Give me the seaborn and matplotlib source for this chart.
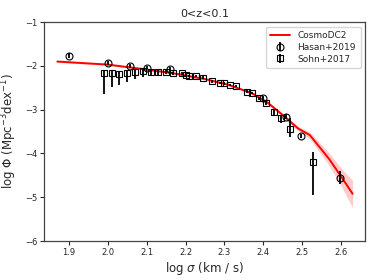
import matplotlib

matplotlib.use("Agg")

import matplotlib.pyplot as plt
import numpy as np
import pandas as pd
import seaborn as sns

# CosmoDC2 model curve and its shaded band
dc2_x = [1.87, 2.00, 2.08, 2.17, 2.25, 2.31, 2.37, 2.41, 2.45, 2.49, 2.52, 2.57, 2.60, 2.63]
dc2_y = [-1.90, -1.97, -2.06, -2.17, -2.30, -2.43, -2.62, -2.83, -3.12, -3.43, -3.58, -4.13, -4.52, -4.92]
dc2_lo = [-1.92, -1.99, -2.08, -2.19, -2.32, -2.45, -2.64, -2.86, -3.16, -3.49, -3.66, -4.28, -4.73, -5.24]
dc2_hi = [-1.88, -1.95, -2.04, -2.15, -2.28, -2.41, -2.60, -2.80, -3.08, -3.38, -3.51, -3.99, -4.33, -4.62]

# Hasan+2019
hasan_x = [1.90, 2.00, 2.058, 2.10, 2.16, 2.40, 2.458, 2.498, 2.597]
hasan_y = [-1.77, -1.93, -2.00, -2.04, -2.07, -2.73, -3.16, -3.60, -4.55]
hasan_err = [0.06, 0.04, 0.04, 0.04, 0.04, 0.05, 0.06, 0.04, 0.14]

# Sohn+2017
sohn_x = [1.99, 2.01, 2.03, 2.05, 2.07, 2.09, 2.11, 2.13, 2.15, 2.168, 2.19, 2.20, 2.21,
          2.226, 2.245, 2.267, 2.288, 2.298, 2.314, 2.329, 2.357, 2.370, 2.389, 2.408,
          2.427, 2.447, 2.468, 2.528]
sohn_y = [-2.17, -2.17, -2.19, -2.17, -2.13, -2.11, -2.13, -2.13, -2.13, -2.17, -2.17, -2.21, -2.23,
          -2.23, -2.27, -2.35, -2.39, -2.40, -2.44, -2.46, -2.59, -2.62, -2.74, -2.85,
          -3.06, -3.20, -3.43, -4.19]
sohn_err_lo = [0.48, 0.31, 0.25, 0.19, 0.17, 0.14, 0.09, 0.07, 0.05, 0.04, 0.04, 0.03, 0.03,
               0.03, 0.03, 0.03, 0.03, 0.03, 0.03, 0.03, 0.03, 0.03, 0.04, 0.04,
               0.05, 0.10, 0.19, 0.76]
sohn_err_hi = [0.05, 0.05, 0.05, 0.05, 0.05, 0.05, 0.04, 0.04, 0.04, 0.03, 0.03, 0.03, 0.03,
               0.03, 0.03, 0.03, 0.03, 0.03, 0.03, 0.03, 0.03, 0.03, 0.04, 0.04,
               0.05, 0.08, 0.24, 0.23]

sns.set_style("ticks")
plt.rcParams["font.family"] = ["DejaVu Sans"]

fig = plt.figure(figsize=(3.74, 2.8), dpi=100)
ax = fig.add_axes([0.118, 0.139, 0.858, 0.782])

dc2 = pd.DataFrame({"x": dc2_x, "y": dc2_y})
ax.fill_between(dc2_x, dc2_lo, dc2_hi, color="red", alpha=0.2, linewidth=0)
sns.lineplot(data=dc2, x="x", y="y", ax=ax, color="red", linewidth=1.4, label="CosmoDC2")

ax.errorbar(hasan_x, hasan_y, yerr=hasan_err, fmt="o", mfc="none", mec="black", ecolor="black",
            ms=5, mew=0.8, elinewidth=1.3, label="Hasan+2019")
ax.errorbar(sohn_x, sohn_y, yerr=[sohn_err_lo, sohn_err_hi], fmt="s", mfc="none", mec="black",
            ecolor="black", ms=4.5, mew=0.8, elinewidth=1.3, label="Sohn+2017")

ax.set_xlim(1.836, 2.662)
ax.set_ylim(-6, -1)
ax.set_xticks(np.arange(1.9, 2.65, 0.1))
ax.set_xticklabels(["1.9", "2.0", "2.1", "2.2", "2.3", "2.4", "2.5", "2.6"])
ax.set_yticks([-6, -5, -4, -3, -2, -1])
ax.set_yticklabels(["\u22126", "\u22125", "\u22124", "\u22123", "\u22122", "\u22121"])
ax.tick_params(labelsize=6, length=3, width=0.8, pad=2)
for sp in ax.spines.values():
    sp.set_color("#444444")
    sp.set_linewidth(0.9)
    sp.set_visible(True)

ax.set_xlabel(r"log $\sigma$ (km / s)", fontsize=8.5, labelpad=2)
ax.set_ylabel(r"log $\Phi$ (Mpc$^{-3}$dex$^{-1}$)", fontsize=8.5, labelpad=4)
ax.set_title("0<z<0.1", fontsize=8, pad=4)
ax.legend(loc="upper right", fontsize=6.5, frameon=True, handlelength=2.2, borderpad=0.5,
          labelspacing=0.3, fancybox=True, edgecolor="#cccccc")

fig.savefig("out.png", dpi=100)
